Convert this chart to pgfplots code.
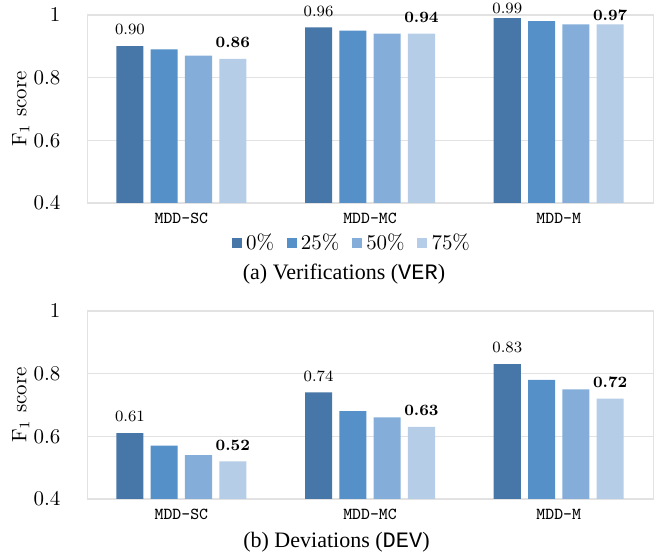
\documentclass[border=0pt]{standalone}
\usepackage{fontspec}
\usepackage{pgfplots}
\pgfplotsset{compat=1.18}
\newfontfamily\capfont{Liberation Serif}
\newfontfamily\capmono{Liberation Mono}
\definecolor{c0}{HTML}{4677A8}
\definecolor{c1}{HTML}{5591C8}
\definecolor{c2}{HTML}{84ADDA}
\definecolor{c3}{HTML}{B6CDE7}
\definecolor{gridc}{HTML}{E2E2E2}

\pgfplotstableread{
x p0 p25 p50 p75 off
0 0.90 0.89 0.87 0.86 1.7
1 0.96 0.95 0.94 0.94 1.7
2 0.99 0.98 0.97 0.97 -1.6
}\ver
\pgfplotstableread{
x p0 p25 p50 p75 off
0 0.61 0.57 0.54 0.52 1.7
1 0.74 0.68 0.66 0.63 1.7
2 0.83 0.78 0.75 0.72 1.7
}\dev

\pgfplotsset{
  mybar/.style={
    scale only axis, width=270pt, height=89.7pt,
    ybar=3.46pt, bar width=12.9pt,
    xmin=-0.5, xmax=2.5, ymin=0.4, ymax=1,
    xtick={0,1,2}, xticklabels={MDD-SC,MDD-MC,MDD-M},
    xticklabel style={font=\fontsize{8}{9}\selectfont\ttfamily, yshift=-1.5pt},
    ytick={0.4,0.6,0.8,1},
    yticklabel style={anchor=east, inner xsep=0pt, xshift=-12.5pt},
    major tick length=0pt,
    axis line style={gridc},
    ymajorgrids, grid style={gridc, line width=0.6pt},
    ylabel={F$_1$ score},
    ylabel style={at={(axis description cs:-0.117,0.5)}, anchor=center},
    clip=false,
    legend image code/.code={\fill[#1] (0pt,-2.4pt) rectangle (4.8pt,2.4pt);},
  },
  lbl/.style={nodes near coords={\pgfmathprintnumber[fixed,fixed zerofill,precision=2,assume math mode=true]{\pgfplotspointmeta}},
    visualization depends on={\thisrow{off} \as \myoff},
    every node near coord/.append style={font=\fontsize{7.5}{9}\selectfont, yshift=\myoff pt, text=black}},
  lblb/.style={nodes near coords={\pgfmathprintnumber[fixed,fixed zerofill,precision=2,assume math mode=true]{\pgfplotspointmeta}},
    visualization depends on={\thisrow{off} \as \myoff},
    every node near coord/.append style={font=\fontsize{7.5}{9}\selectfont\bfseries, yshift=\myoff pt, text=black}},
}

\begin{document}
\begin{tikzpicture}
\begin{axis}[mybar, name=top,
  legend style={at={(axis description cs:0.47,-0.213)}, anchor=center, draw=none, fill=none,
    legend columns=4, font=\fontsize{10}{12}\selectfont,
    /tikz/every even column/.append style={column sep=4pt},
    legend cell align=left, inner sep=0pt}]
\addplot[fill=c0, draw=none, lbl] table[x=x,y=p0]{\ver};
\addplot[fill=c1, draw=none] table[x=x,y=p25]{\ver};
\addplot[fill=c2, draw=none] table[x=x,y=p50]{\ver};
\addplot[fill=c3, draw=none, lblb] table[x=x,y=p75]{\ver};
\legend{0\%,25\%,50\%,75\%}
\node[font=\capfont\fontsize{10.5}{12}\selectfont] at (rel axis cs:0.454,-0.378) {(a) Verifications ({\capmono VER})};
\end{axis}
\begin{axis}[mybar, at={(0,-141.2pt)}]
\addplot[fill=c0, draw=none, lbl] table[x=x,y=p0]{\dev};
\addplot[fill=c1, draw=none] table[x=x,y=p25]{\dev};
\addplot[fill=c2, draw=none] table[x=x,y=p50]{\dev};
\addplot[fill=c3, draw=none, lblb] table[x=x,y=p75]{\dev};
\node[font=\capfont\fontsize{10.5}{12}\selectfont] at (rel axis cs:0.4408,-0.229) {(b) Deviations ({\capmono DEV})};
\end{axis}
\pgfresetboundingbox
\path[use as bounding box] (-41.5pt,-167.9pt) rectangle (275.7pt,96.8pt);
\end{tikzpicture}
\end{document}
